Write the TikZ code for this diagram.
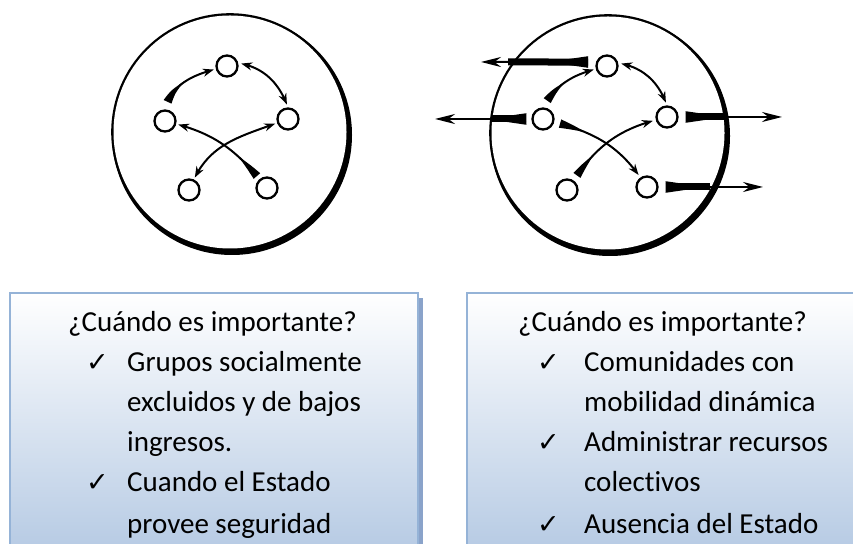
\documentclass[tikz,border=0pt]{standalone}
\usepackage{fontspec}
\setmainfont{Carlito}[Ligatures=NoCommon]
\newfontfamily\tickfont{DejaVu Sans}
\usetikzlibrary{arrows.meta,bending}
\definecolor{boxline}{RGB}{149,179,215}
\definecolor{boxshade}{RGB}{138,163,202}
\definecolor{boxfill}{RGB}{183,203,228}

\begin{document}
\begin{tikzpicture}[x=1pt,y=1pt,
  dot/.style={circle,draw,line width=2.3pt,minimum size=21pt,inner sep=0pt},
  ring/.style={circle,draw,line width=2.6pt,minimum size=235pt,inner sep=0pt},
  twoway/.style={line width=2pt,{Stealth[length=11pt,width=8pt]}-{Stealth[length=11pt,width=8pt]}},
  push/.style={line width=2pt,{Triangle[reversed,bend,length=30pt,width=8pt]}-{Stealth[length=11pt,width=8pt]}},
  exit/.style={line width=2pt,{Triangle[reversed,length=40pt,width=11pt]}-{Stealth[length=20pt,width=10pt]}},
  exitbody/.style={line width=7pt},
  panel/.style={top color=white,bottom color=boxfill,draw=boxline,line width=1.5pt},
  itemtext/.style={anchor=base west,inner sep=0pt,font=\fontsize{29}{35}\selectfont},
  okmark/.style={anchor=base west,inner sep=0pt,font=\tickfont\fontsize{27}{30}\selectfont}]

\useasboundingbox (0,0) rectangle (853,543);
\clip (0,0) rectangle (853,543);

\fill [boxshade] (418,245) rectangle (423,-5);
\shadedraw [panel] (10,250) rectangle (418,-5);
\shadedraw [panel] (467,250) rectangle (870,-5);

\node (W1) [ring] at (230,411) {};
\fill ([shift={(2,-3)}]W1.center) circle (120);
\fill [white] (W1.center) circle (116.5);
\node (T1) [dot] at (227,477) {};
\node (L1) [dot] at (165,422) {};
\node (R1) [dot] at (288,424) {};
\node (BL1) [dot] at (189,353) {};
\node (BR1) [dot] at (267,355) {};
\draw [push,shorten <=8pt,shorten >=2pt] (L1.north) to[out=75,in=195] (T1);
\draw [twoway,shorten <=3pt,shorten >=3pt] (T1.15) to[out=-10,in=110] (R1.north);
\draw [push,shorten <=4pt,shorten >=2pt] (BR1) to[out=130,in=-15] (L1);
\draw [twoway,shorten <=2pt,shorten >=2pt] (BL1) to[out=65,in=200] (R1);

\node (W2) [ring] at (608,410) {};
\fill ([shift={(2,-3)}]W2.center) circle (120);
\fill [white] (W2.center) circle (116.5);
\node (T2) [dot] at (607,477) {};
\node (L2) [dot] at (543,424) {};
\node (R2) [dot] at (667,426) {};
\node (BL2) [dot] at (567,353) {};
\node (BR2) [dot] at (647,356) {};
\draw [push,shorten <=8pt,shorten >=2pt] (L2.north) to[out=60,in=195] (T2);
\draw [twoway,shorten <=3pt,shorten >=3pt] (T2.15) to[out=-10,in=110] (R2.north);
\draw [push,shorten <=6pt,shorten >=3pt] (L2) to[out=-15,in=125] (BR2);
\draw [push,shorten <=6pt,shorten >=3pt] (BL2) to[out=56,in=195] (R2);

\coordinate (xT) at (481,481);
\coordinate (mT) at (508,481);
\coordinate (xL) at (435,424);
\coordinate (mL) at (492,424);
\coordinate (xR) at (782,426);
\coordinate (mR) at (725,426);
\coordinate (xB) at (763,356);
\coordinate (mB) at (710,356);
\draw [exit,shorten <=8pt] (T2.160) -- (xT);
\draw [exitbody,shorten <=8pt] (T2.160) -- (mT);
\draw [exit,shorten <=5pt] (L2.west) -- (xL);
\draw [exitbody,shorten <=5pt] (L2.west) -- (mL);
\draw [exit,shorten <=7pt] (R2.east) -- (xR);
\draw [exitbody,shorten <=7pt] (R2.east) -- (mR);
\draw [exit,shorten <=7pt] (BR2.east) -- (xB);
\draw [exitbody,shorten <=7pt] (BR2.east) -- (mB);

\node (q1) [itemtext] at (68,211) {¿Cuándo es importante?};
\node (t1) [okmark] at (86,171) {✓};
\node (a1) [itemtext] at (127,171) {Grupos socialmente};
\node (a2) [itemtext] at (127,131) {excluidos y de bajos};
\node (a3) [itemtext] at (127,91) {ingresos.};
\node (t2) [okmark] at (86,51) {✓};
\node (a4) [itemtext] at (127,51) {Cuando el Estado};
\node (a5) [itemtext] at (127,10) {provee seguridad};

\node (q2) [itemtext] at (518,211) {¿Cuándo es importante?};
\node (u1) [okmark] at (537,171) {✓};
\node (b1) [itemtext] at (584,171) {Comunidades con};
\node (b2) [itemtext] at (584,131) {mobilidad dinámica};
\node (u2) [okmark] at (537,91) {✓};
\node (b3) [itemtext] at (584,91) {Administrar recursos};
\node (b4) [itemtext] at (584,51) {colectivos};
\node (u3) [okmark] at (537,10) {✓};
\node (b5) [itemtext] at (584,10) {Ausencia del Estado};
\end{tikzpicture}
\end{document}
